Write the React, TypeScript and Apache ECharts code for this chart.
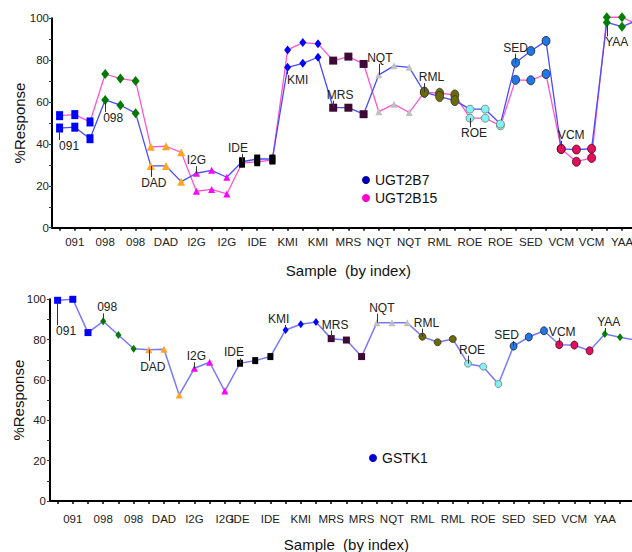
import React, { useEffect, useRef } from "react";
import * as echarts from "echarts";

// ---------- data ----------
const categories: string[] = [
  "091", "091", "091", "098", "098", "098", "DAD", "DAD", "DAD",
  "I2G", "I2G", "I2G", "IDE", "IDE", "IDE", "KMI", "KMI", "KMI",
  "MRS", "MRS", "MRS", "NQT", "NQT", "NQT", "RML", "RML", "RML",
  "ROE", "ROE", "ROE", "SED", "SED", "SED", "VCM", "VCM", "VCM",
  "YAA", "YAA", "YAA",
];

const ugt2b7: number[] = [
  47.6, 48.0, 42.5, 61.0, 58.5, 54.7, 29.5, 29.5, 22.0,
  26.0, 27.4, 24.1, 31.5, 32.8, 32.8, 76.6, 78.5, 81.4,
  57.3, 57.3, 54.2, 73.0, 77.3, 76.6, 64.7, 62.6, 60.7,
  56.6, 56.6, 49.5, 78.8, 84.4, 89.2, 37.6, 37.3, 37.7,
  98.0, 96.0, 99.0,
];

const ugt2b15: number[] = [
  53.5, 54.0, 50.5, 73.4, 71.2, 70.1, 38.6, 38.9, 36.0,
  17.4, 18.3, 16.1, 30.8, 31.5, 32.3, 84.9, 88.4, 87.8,
  79.8, 81.7, 78.2, 55.4, 59.0, 55.0, 64.7, 64.2, 63.4,
  52.3, 52.3, 48.7, 70.6, 70.4, 73.4, 37.6, 31.5, 33.3,
  100.5, 100.5, 97.0,
];

const gstk1: number[] = [
  99.5, 100.0, 83.5, 89.1, 82.3, 75.5, 75.0, 75.2, 52.6,
  65.8, 68.8, 54.5, 68.3, 69.6, 71.6, 84.8, 87.6, 88.7,
  80.5, 79.8, 71.6, 88.4, 88.4, 88.4, 81.5, 78.7, 80.3,
  68.1, 66.6, 58.0, 76.8, 81.3, 84.4, 77.5, 77.3, 74.5,
  82.8, 81.2, 79.8,
];

const yTicks: number[] = [0, 20, 40, 60, 80, 100];

// ---------- style ----------
const FONT = "'Liberation Sans', Arial, sans-serif";

type GS = { color: string; symbol: string; top: number[]; bot: number[]; border?: string };
const groupStyle: Record<string, GS> = {
  "091": { color: "#0000ff", symbol: "rect", top: [7, 9], bot: [7, 7] },
  "098": { color: "#007a00", symbol: "diamond", top: [8, 10], bot: [6, 8] },
  DAD: { color: "#ffa522", symbol: "triangle", top: [8, 8], bot: [7, 7] },
  I2G: { color: "#ff00ff", symbol: "triangle", top: [7, 7], bot: [7, 7] },
  IDE: { color: "#000000", symbol: "rect", top: [6, 9], bot: [6, 7] },
  KMI: { color: "#0000ff", symbol: "diamond", top: [7, 9], bot: [6, 8] },
  MRS: { color: "#3d0a35", symbol: "rect", top: [8, 8], bot: [7, 7] },
  NQT: { color: "#c0c0c0", symbol: "triangle", top: [7, 7], bot: [7, 7] },
  RML: { color: "#6b6b00", symbol: "circle", top: [8, 10], bot: [7, 7], border: "#333" },
  ROE: { color: "#80f4f4", symbol: "circle", top: [8, 8], bot: [7, 7], border: "#777" },
  SED: { color: "#1e78e6", symbol: "circle", top: [8, 9], bot: [7, 8], border: "#223" },
  VCM: { color: "#e0105a", symbol: "circle", top: [8, 9], bot: [7, 8], border: "#502" },
  YAA: { color: "#008000", symbol: "diamond", top: [8, 10], bot: [6, 8] },
};

// label placements (pixel offsets of text centre from the point)
type LS = { i: number; s: string; dx: number; dy: number };
const topLabels: LS[] = [
  { i: 0, s: "b7", dx: 9.5, dy: 18 },
  { i: 3, s: "b7", dx: 8, dy: 18 },
  { i: 6, s: "b7", dx: 3, dy: 17 },
  { i: 9, s: "b7", dx: 0, dy: -13 },
  { i: 12, s: "b7", dx: -4, dy: -14 },
  { i: 15, s: "b7", dx: 10, dy: 13 },
  { i: 18, s: "b7", dx: 7, dy: -13 },
  { i: 21, s: "b7", dx: 1, dy: -17 },
  { i: 24, s: "b7", dx: 7, dy: -15 },
  { i: 27, s: "b15", dx: 4, dy: 15 },
  { i: 30, s: "b7", dx: 0, dy: -15 },
  { i: 33, s: "b7", dx: 10, dy: -14 },
  { i: 36, s: "b7", dx: 10, dy: 20 },
];
const botLabels: LS[] = [
  { i: 0, s: "gk", dx: 8.5, dy: 31 },
  { i: 3, s: "gk", dx: 4, dy: -14 },
  { i: 6, s: "gk", dx: 4, dy: 17 },
  { i: 9, s: "gk", dx: 2, dy: -12 },
  { i: 12, s: "gk", dx: -6, dy: -11 },
  { i: 15, s: "gk", dx: -7, dy: -11 },
  { i: 18, s: "gk", dx: 4, dy: -14 },
  { i: 21, s: "gk", dx: 5, dy: -15 },
  { i: 24, s: "gk", dx: 4, dy: -14 },
  { i: 27, s: "gk", dx: 4, dy: -14 },
  { i: 30, s: "gk", dx: -7, dy: -11 },
  { i: 33, s: "gk", dx: 3, dy: -13 },
  { i: 36, s: "gk", dx: 4, dy: -12 },
];

function buildItems(values: number[], key: string, labels: LS[], panel: "top" | "bot") {
  return values.map((v, i) => {
    const g = categories[i];
    const st = groupStyle[g];
    const lab = labels.find((l) => l.i === i && l.s === key);
    return {
      value: v,
      symbol: st.symbol,
      symbolSize: panel === "top" ? st.top : st.bot,
      itemStyle: {
        color: st.color,
        borderColor: st.border || st.color,
        borderWidth: st.border ? 0.8 : 0,
      },
      label: lab
        ? {
            show: true,
            position: "inside",
            offset: [lab.dx, lab.dy],
            formatter: g,
            color: "#222",
            fontSize: 12,
            fontFamily: FONT,
          }
        : { show: false },
    };
  });
}

function buildLeaders(values: number[], key: string, labels: LS[], ppu: number) {
  return labels
    .filter((l) => l.s === key)
    .map((l) => {
      const v = values[l.i];
      const len = (Math.abs(l.dy) - 6) / ppu;
      const v2 = l.dy > 0 ? v - len : v + len;
      return [{ coord: [l.i, v] }, { coord: [l.i, v2] }];
    });
}

function leaderMarkLine(data: any[]) {
  return {
    silent: true,
    symbol: ["none", "none"],
    label: { show: false },
    lineStyle: { color: "#333", width: 1, type: "solid" },
    emphasis: { disabled: true },
    animation: false,
    data,
  };
}

function xAxisCfg(gridIndex: number, labelFn: (i: number) => boolean, margin: number, nameGap: number) {
  return {
    type: "category",
    gridIndex,
    data: categories,
    boundaryGap: true,
    axisLine: { show: true, lineStyle: { color: "#000", width: 2 } },
    axisTick: { show: true, interval: 0, alignWithLabel: true, length: 3, lineStyle: { color: "#000", width: 1.5 } },
    axisLabel: {
      interval: (i: number) => labelFn(i),
      margin,
      fontSize: 11.5,
      color: "#222",
      fontFamily: FONT,
    },
    splitLine: { show: false },
    name: "Sample  (by index)",
    nameLocation: "middle",
    nameGap,
    nameMoveOverlap: false,
    nameTextStyle: { fontSize: 15, color: "#111", fontFamily: FONT },
  };
}

function yAxisCfg(gridIndex: number, margin: number, nameGap: number) {
  return {
    type: "value",
    gridIndex,
    min: yTicks[0],
    max: yTicks[yTicks.length - 1],
    interval: yTicks[1] - yTicks[0],
    axisLine: { show: true, lineStyle: { color: "#000", width: 2 } },
    axisTick: { show: true, length: 3, lineStyle: { color: "#333", width: 1 } },
    minorTick: { show: true, splitNumber: 2, length: 3, lineStyle: { color: "#333", width: 1 } },
    splitLine: { show: false },
    minorSplitLine: { show: false },
    axisLabel: { margin, fontSize: 11.5, color: "#222", fontFamily: FONT },
    name: "%Response",
    nameLocation: "middle",
    nameRotate: 90,
    nameGap,
    nameMoveOverlap: false,
    nameTextStyle: { fontSize: 15, color: "#111", fontFamily: FONT },
  };
}

export default function App() {
  const ref = useRef<HTMLDivElement>(null);

  useEffect(() => {
    document.body.style.margin = "0";
    document.body.style.overflow = "hidden";
    if (!ref.current) return;
    const chart = echarts.init(ref.current, undefined, { renderer: "svg" });

    const PPU_TOP = 2.094;
    const PPU_BOT = 2.017;

    const option: any = {
      animation: false,
      backgroundColor: "#fff",
      textStyle: { fontFamily: FONT },
      grid: [
        { left: 52, top: 18.3, width: 592.8, height: 209.4, containLabel: false, outerBoundsMode: "none" },
        { left: 50, top: 299.3, width: 592.8, height: 201.7, containLabel: false, outerBoundsMode: "none" },
      ],
      legend: [
        {
          data: ["UGT2B7", "UGT2B15"],
          orient: "vertical",
          left: 357,
          top: 168,
          icon: "circle",
          itemWidth: 8,
          itemHeight: 14,
          itemGap: 4,
          selectedMode: false,
          textStyle: { fontSize: 14, color: "#111", fontFamily: FONT },
        },
        {
          data: ["GSTK1"],
          orient: "vertical",
          left: 364,
          top: 446,
          icon: "circle",
          itemWidth: 8,
          itemHeight: 14,
          selectedMode: false,
          textStyle: { fontSize: 14, color: "#111", fontFamily: FONT },
        },
      ],
      xAxis: [
        xAxisCfg(0, (i) => i % 2 === 1, 8, 35),
        xAxisCfg(1, (i) => (i <= 11 ? i % 2 === 1 : i % 2 === 0 && i <= 36), 12, 36),
      ],
      yAxis: [yAxisCfg(0, 3, 25), yAxisCfg(1, 4, 24)],
      series: [
        {
          name: "UGT2B7",
          type: "line",
          xAxisIndex: 0,
          yAxisIndex: 0,
          clip: false,
          showAllSymbol: true,
          itemStyle: { color: "#0000b0" },
          lineStyle: { color: "#4a4aff", width: 1.3 },
          data: buildItems(ugt2b7, "b7", topLabels, "top"),
          markLine: leaderMarkLine(buildLeaders(ugt2b7, "b7", topLabels, PPU_TOP)),
          emphasis: { disabled: true },
          z: 3,
        },
        {
          name: "UGT2B15",
          type: "line",
          xAxisIndex: 0,
          yAxisIndex: 0,
          clip: false,
          showAllSymbol: true,
          itemStyle: { color: "#ff00cc" },
          lineStyle: { color: "#ff55d2", width: 1.3 },
          data: buildItems(ugt2b15, "b15", topLabels, "top"),
          markLine: leaderMarkLine(buildLeaders(ugt2b15, "b15", topLabels, PPU_TOP)),
          emphasis: { disabled: true },
          z: 2,
        },
        {
          name: "GSTK1",
          type: "line",
          xAxisIndex: 1,
          yAxisIndex: 1,
          clip: false,
          showAllSymbol: true,
          itemStyle: { color: "#0000d0" },
          lineStyle: { color: "#7878ff", width: 1.5 },
          data: buildItems(gstk1, "gk", botLabels, "bot"),
          markLine: leaderMarkLine(buildLeaders(gstk1, "gk", botLabels, PPU_BOT)),
          emphasis: { disabled: true },
        },
      ],
    };

    chart.setOption(option);
    return () => chart.dispose();
  }, []);

  return <div ref={ref} style={{ width: 632, height: 552, overflow: "hidden" }} />;
}
